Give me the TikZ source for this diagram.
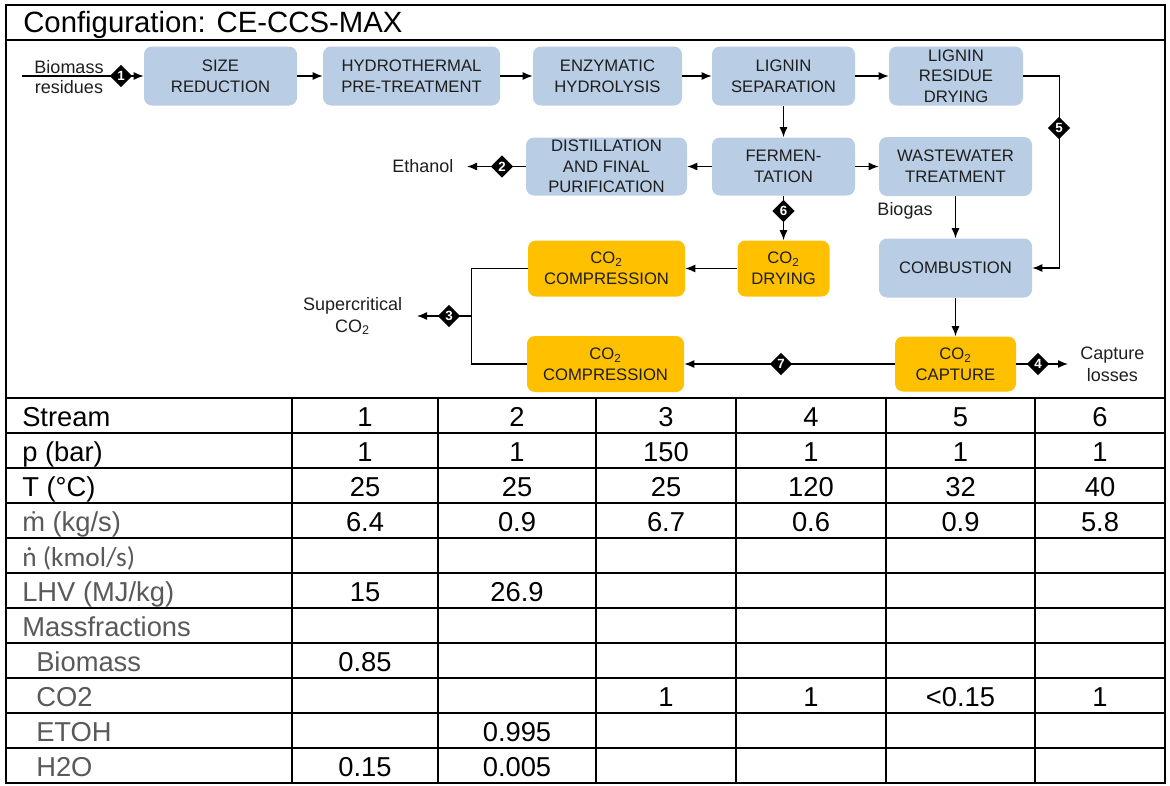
\documentclass[tikz,border=0pt]{standalone}
\usepackage{fontspec}
\setmainfont{Liberation Sans}
\newfontfamily\calfont{Carlito}
\usetikzlibrary{shapes.geometric,arrows.meta}
\definecolor{boxblue}{RGB}{185,205,229}
\definecolor{boxorange}{RGB}{255,192,0}
\definecolor{txt}{RGB}{30,30,30}
\definecolor{lbl}{RGB}{89,89,89}
\begin{document}
\begin{tikzpicture}[x=0.75pt,y=-0.75pt,
  proc/.style={rounded corners=6pt, align=center, text=txt, font=\fontsize{12.5}{15.5}\selectfont, inner sep=0pt},
  bluebox/.style={proc, fill=boxblue},
  orangebox/.style={proc, fill=boxorange},
  wh/.style 2 args={minimum width=#1*0.75pt, minimum height=#2*0.75pt},
  flow/.style={line width=1pt, draw=black},
  arr/.style={flow, -{Latex[length=7.5pt,width=6pt]}},
  num/.style={diamond, fill=black, text=white, inner sep=0pt, minimum width=17pt, minimum height=17pt, font=\bfseries\fontsize{10}{10}\selectfont},
  lab/.style={text=txt, font=\fontsize{13.5}{16.5}\selectfont, align=center},
  tline/.style={line width=1.5pt},
  tlab/.style={anchor=base west, inner sep=0pt, font=\fontsize{20.5}{24}\selectfont},
  tval/.style={anchor=base, inner sep=0pt, font=\fontsize{20.5}{24}\selectfont}
]
\useasboundingbox (0,0) rectangle (1170,785);

% frame
\draw[tline] (6,5) rectangle (1165,782.5);
\draw[tline] (6,40) -- (1165,40);
\node[anchor=base west, inner sep=0pt, font=\fontsize{22}{26}\selectfont] (title) at (23,32) {Configuration: CE-CCS-MAX};

% process boxes
\node[bluebox, wh={153}{59}] (size) at (220.5,76) {SIZE\\REDUCTION};
\node[bluebox, wh={177}{59}] (hydro) at (411.5,76) {HYDROTHERMAL\\PRE-TREATMENT};
\node[bluebox, wh={149}{59}] (enz) at (607.5,76) {ENZYMATIC\\HYDROLYSIS};
\node[bluebox, wh={143}{59}] (lsep) at (783.5,76) {LIGNIN\\SEPARATION};
\node[bluebox, wh={134}{59}] (lrd) at (956,76) {LIGNIN\\RESIDUE\\DRYING};

\node[bluebox, wh={161}{58}] (dist) at (606.5,166.5) {DISTILLATION\\AND FINAL\\PURIFICATION};
\node[bluebox, wh={143}{58}] (ferm) at (783.5,166.5) {FERMEN-\\TATION};
\node[bluebox, wh={153}{59}] (ww) at (955.5,166.5) {WASTEWATER\\TREATMENT};

\node[orangebox, wh={157}{56}] (comp1) at (606.5,268.5) {CO\textsubscript{2}\\COMPRESSION};
\node[orangebox, wh={92}{56}] (dry) at (783.5,268.5) {CO\textsubscript{2}\\DRYING};
\node[bluebox, wh={153}{59}] (comb) at (955.5,268) {COMBUSTION};

\node[orangebox, wh={157}{56}] (comp2) at (605.5,364) {CO\textsubscript{2}\\COMPRESSION};
\node[orangebox, wh={121}{55}] (cap) at (955.5,364) {CO\textsubscript{2}\\CAPTURE};

% labels
\coordinate (bin) at (22,76);
\node[lab, anchor=base, inner sep=0pt] (biom) at (69,73.5) {Biomass};
\node[lab, inner sep=0pt] (resid) at (69,87) {residues};
\node[lab, anchor=east, inner xsep=10pt] (eth) at (467,166.5) {Ethanol};
\node[lab] (biogas) at (905,211) {Biogas};
\node[lab, anchor=east, inner xsep=11pt] (sc) at (417,316) {Supercritical\\CO\textsubscript{2}};
\node[lab, anchor=west, inner xsep=9pt] (loss) at (1068,364) {Capture\\losses};

% connectors
\draw[arr] (bin) -- (size.west);
\draw[arr] (size.east) -- (hydro.west);
\draw[arr] (hydro.east) -- (enz.west);
\draw[arr] (enz.east) -- (lsep.west);
\draw[arr] (lsep.east) -- (lrd.west);
\draw[arr] (lrd.east) -- ++(36,0) |- (comb.east);
\draw[arr] (lsep.south) -- (ferm.north);
\draw[arr] (ferm.west) -- (dist.east);
\draw[arr] (dist.west) -- (eth.east);
\draw[arr] (ferm.east) -- (ww.west);
\draw[arr] (ferm.south) -- (dry.north);
\draw[arr] (ww.south) -- (comb.north);
\draw[arr] (dry.west) -- (comp1.east);
\draw[flow] (comp1.west) -- ++(-56,0) |- (comp2.west);
\coordinate (j3) at (472,316);
\draw[arr] (j3) -- (sc.east);
\draw[arr] (comb.south) -- (cap.north);
\draw[arr] (cap.west) -- (comp2.east);
\draw[arr] (cap.east) -- (loss.west);

% stream markers
\node[num] (d1) at (121,76) {1};
\node[num] (d2) at (502,166.5) {2};
\node[num] (d3) at (449,316) {3};
\node[num] (d4) at (1038,364) {4};
\node[num] (d5) at (1059,128) {5};
\node[num] (d6) at (783.5,211) {6};
\node[num] (d7) at (781,364) {7};

% table grid
\foreach \i in {0,...,10} \draw[tline] (6,397.5+35*\i) -- (1165,397.5+35*\i);
\foreach \x in {292,438,596,736,886,1035} \draw[tline] (\x,397.5) -- (\x,782.5);

% table labels
\node[tlab] (l0) at (22,426) {Stream};
\node[tlab] (l1) at (22,461) {p (bar)};
\node[tlab] (l2) at (22,496) {T (°C)};
\node[tlab, text=lbl] (l3) at (22,531) {\.{m} (kg/s)};
\node[tlab, text=lbl, font=\calfont\fontsize{20.5}{24}\selectfont] (l4) at (22,566) {\ooalign{n\cr\hidewidth ˙\hidewidth\cr} (kmol/s)};
\node[tlab, text=lbl] (l5) at (22,601) {LHV (MJ/kg)};
\node[tlab, text=lbl] (l6) at (22,636) {Massfractions};
\node[tlab, text=lbl] (l7) at (36,671) {Biomass};
\node[tlab, text=lbl] (l8) at (36,706) {CO2};
\node[tlab, text=lbl] (l9) at (36,741) {ETOH};
\node[tlab, text=lbl] (l10) at (36,776) {H2O};

% table values
\foreach \x/\v [count=\c] in {365/1,517/2,666/3,811/4,960.5/5,1100/6} \node[tval] (s\c) at (\x,426) {\v};
\foreach \x/\v [count=\c] in {365/1,517/1,666/150,811/1,960.5/1,1100/1} \node[tval] (p\c) at (\x,461) {\v};
\foreach \x/\v [count=\c] in {365/25,517/25,666/25,811/120,960.5/32,1100/40} \node[tval] (t\c) at (\x,496) {\v};
\foreach \x/\v [count=\c] in {365/6.4,517/0.9,666/6.7,811/0.6,960.5/0.9,1100/5.8} \node[tval] (m\c) at (\x,531) {\v};
\node[tval] (h1) at (365,601) {15};
\node[tval] (h2) at (517,601) {26.9};
\node[tval] (b1) at (365,671) {0.85};
\foreach \x/\v [count=\c] in {666/1,811/1,960.5/{<0.15},1100/1} \node[tval] (c\c) at (\x,706) {\v};
\node[tval] (e2) at (517,741) {0.995};
\node[tval] (w1) at (365,776) {0.15};
\node[tval] (w2) at (517,776) {0.005};
\end{tikzpicture}
\end{document}
